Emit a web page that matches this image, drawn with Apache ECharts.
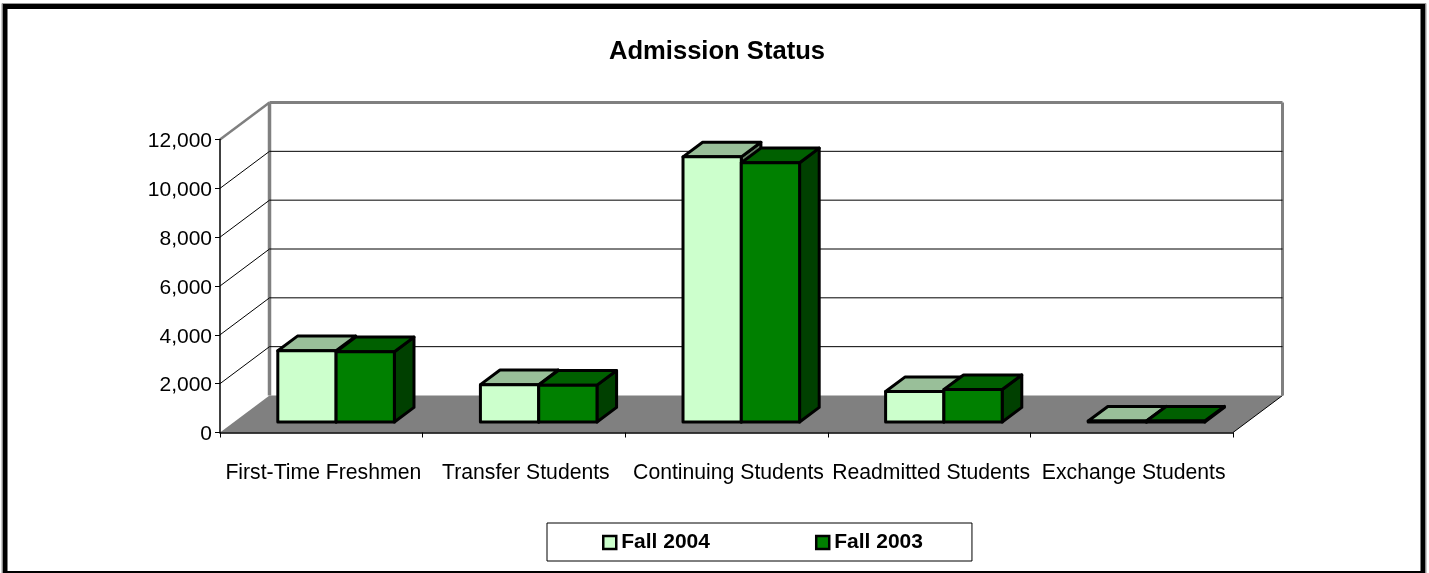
<!DOCTYPE html>
<html><head><meta charset="utf-8">
<style>html,body{margin:0;padding:0;background:#fff}#c{width:1429px;height:573px}</style>
<script src="https://cdn.jsdelivr.net/npm/echarts@6/dist/echarts.min.js"></script>
</head><body><div id="c"></div>
<script>
const categories = ['First-Time Freshmen','Transfer Students','Continuing Students','Readmitted Students','Exchange Students'];
const fall2004 = [2920, 1530, 10860, 1250, 40];
const fall2003 = [2880, 1510, 10620, 1330, 40];
const yTicks = [2000, 4000, 6000, 8000, 10000, 12000];

const chart = echarts.init(document.getElementById('c'), null, {renderer:'canvas'});
const DX = 49.5, DY = -37;           // wall depth
const INX = 14.8, INY = -10.5;       // bars' inset from the front plane
const BDX = 19.6, BDY = -14.6;       // bar depth
const BAR_RATIO = 0.2877;
const FONT = '"Liberation Sans", Arial, sans-serif';

function poly(pts, fill, stroke, lw){
  return {type:'polygon', shape:{points:pts}, style:{fill:fill, stroke:stroke, lineWidth:lw, lineJoin:'round'}};
}
function line(x1,y1,x2,y2,color,lw){
  return {type:'line', shape:{x1,y1,x2,y2}, style:{stroke:color, lineWidth:lw}};
}
function barRenderer(offsetSign, front, top, side){
  return function(params, api){
    const cat = api.value(0), val = api.value(1);
    const p = api.coord([cat, val]), p0 = api.coord([cat, 0]);
    const w = api.size([1,0])[0] * BAR_RATIO;
    const xl = p[0] + INX + (offsetSign < 0 ? -w : 0), xr = xl + w;
    const yt = p[1] + INY, yb = p0[1] + INY;
    return {type:'group', children:[
      poly([[xr,yt],[xr+BDX,yt+BDY],[xr+BDX,yb+BDY],[xr,yb]], side, '#000', 3),
      poly([[xl,yt],[xl+BDX,yt+BDY],[xr+BDX,yt+BDY],[xr,yt]], top, '#000', 3),
      poly([[xl,yt],[xr,yt],[xr,yb],[xl,yb]], front, '#000', 3)
    ]};
  };
}
function floorWalls(params, api){
  const g = params.coordSys, l = g.x, r = g.x+g.width, b = api.coord([0,0])[1], t = api.coord([0,12000])[1];
  return {type:'group', children:[
    poly([[l,b],[r,b],[r+DX,b+DY],[l+DX,b+DY]], '#808080', null, 0),
    line(r,b,r+DX,b+DY,'#000',1),
    line(l+DX,t+DY,l+DX,b+DY,'#808080',3.5),
    line(r+DX,t+DY,r+DX,b+DY,'#808080',3),
    line(l+DX,t+DY,r+DX,t+DY,'#808080',3),
    line(l,t,l+DX,t+DY,'#808080',2.5)
  ]};
}
function gridRenderer(params, api){
  const g = params.coordSys, l = g.x, r = g.x+g.width;
  const y = api.coord([0, api.value(1)])[1];
  if (api.value(1) >= 12000) return null;
  return {type:'group', children:[
    line(l,y,l+DX,y+DY,'#000',1),
    line(l+DX,y+DY,r+DX,y+DY,'#000',1)
  ]};
}

chart.setOption({
  animation:false,
  backgroundColor:'#fff',
  title:{text:'Admission Status', left:712, top:34, textAlign:'center',
    textStyle:{fontFamily:FONT, fontSize:25.6, fontWeight:'bold', color:'#000'}},
  legend:{
    left:547, top:523, orient:'horizontal',
    padding:[9,49,8,55], itemGap:105, itemWidth:13, itemHeight:13, icon:'rect',
    borderColor:'#000', borderWidth:1, backgroundColor:'#fff',
    textStyle:{fontFamily:FONT, fontSize:21, fontWeight:'bold', color:'#000'},
    data:[
      {name:'Fall 2004', itemStyle:{color:'#CCFFCC', borderColor:'#000', borderWidth:2.5}},
      {name:'Fall 2003', itemStyle:{color:'#008000', borderColor:'#000', borderWidth:2.5}}
    ]
  },
  grid:{left:220, right:196, top:139.5, bottom:140.5, containLabel:false},
  xAxis:{type:'category', data:categories, boundaryGap:true,
    axisLine:{lineStyle:{color:'#000', width:1.5}},
    axisTick:{show:true, alignWithLabel:false, length:5, lineStyle:{color:'#000', width:1}},
    axisLabel:{color:'#000', fontFamily:FONT, fontSize:21.2, margin:30, padding:[0,0,0,4], interval:0}},
  yAxis:{type:'value', min:0, max:12000, interval:2000,
    axisLine:{show:true, lineStyle:{color:'#000', width:1.5}},
    axisTick:{show:true, length:5, lineStyle:{color:'#000', width:1}},
    splitLine:{show:false},
    axisLabel:{color:'#000', fontFamily:FONT, fontSize:21, margin:8, verticalAlign:'top', lineHeight:4,
      formatter:v=>v.toLocaleString('en-US')}},
  graphic:[
    {type:'rect', silent:true, z:100, shape:{x:5,y:6.5,width:1418,height:567}, style:{fill:null, stroke:'#000', lineWidth:5}},
    {type:'rect', silent:true, z:100, shape:{x:2,y:3.5,width:1424,height:575}, style:{fill:null, stroke:'#999', lineWidth:1}}
  ],
  series:[
    {type:'custom', z:-2, silent:true, renderItem:floorWalls, data:[[0,0]], encode:{x:0,y:1}, clip:false},
    {type:'custom', z:-1, silent:true, renderItem:gridRenderer, data:yTicks.map(v=>[0,v]), encode:{x:0,y:1}, clip:false},
    {type:'custom', name:'Fall 2004', z:3, renderItem:barRenderer(-1,'#CCFFCC','#99BF99','#668066'),
      itemStyle:{color:'#CCFFCC'}, data:fall2004.map((v,i)=>[i,v]), encode:{x:0,y:1}, clip:false},
    {type:'custom', name:'Fall 2003', z:4, renderItem:barRenderer(1,'#008000','#006000','#004000'),
      itemStyle:{color:'#008000'}, data:fall2003.map((v,i)=>[i,v]), encode:{x:0,y:1}, clip:false}
  ]
});
</script></body></html>
